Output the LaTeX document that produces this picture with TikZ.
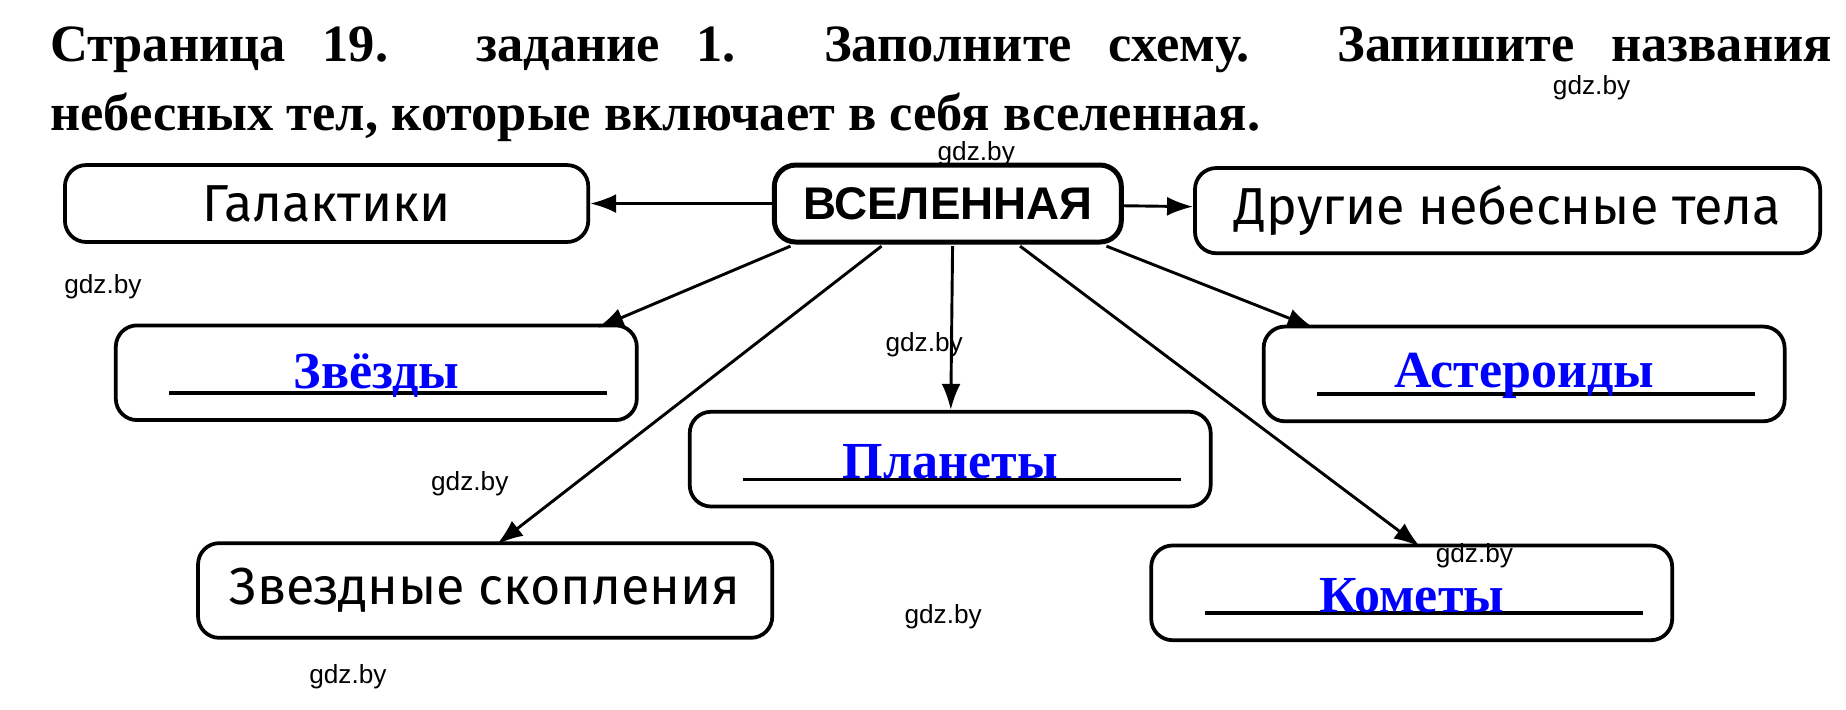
\documentclass[tikz,border=0pt]{standalone}
\usepackage{fontspec}
\setmainfont{Liberation Serif}
\newfontfamily\handfont{Fira Sans}
\newfontfamily\wmfont{Liberation Sans}
\usetikzlibrary{arrows.meta}
\tikzset{
  box/.style={rectangle,rounded corners=0.18cm,draw=black,line width=0.9pt,minimum width=4.4cm,minimum height=0.8cm},
  hand/.style={font=\handfont\fontsize{12.5}{14}\selectfont},
  answer/.style={font=\bfseries\fontsize{12.5}{14}\selectfont,text=blue},
  wm/.style={font=\wmfont\fontsize{6.3}{7}\selectfont},
  link/.style={-{Latex[length=0.22cm,width=0.16cm]},line width=0.7pt}
}
\begin{document}
\begin{tikzpicture}[x=0.01cm,y=-0.01cm]
      \useasboundingbox (0,0) rectangle (1560,600);
      % title
      \node[anchor=base west,font=\bfseries\fontsize{12.6}{14}\selectfont] (t1) at (30,52){\makebox[15.05cm][s]{Страница 19. задание 1. Заполните схему. Запишите названия}};
      \node[anchor=base west,font=\bfseries\fontsize{12.6}{14}\selectfont] (t2) at (30,110){небесных тел, которые включает в себя вселенная.};

      \node[box,minimum width=2.93cm,minimum height=0.65cm,line width=1.2pt] (U) at (801,172){};
      \node[font=\wmfont\bfseries\fontsize{11}{12}\selectfont] at (U){ВСЕЛЕННАЯ};
      \node[box,minimum width=4.42cm,minimum height=0.65cm] (gal) at (276,172){};
      \node[hand] at (gal){Галактики};
      \node[box,minimum width=5.28cm,minimum height=0.72cm] (oth) at (1274,178){};
      \node[hand] at (oth){Другие небесные тела};

      \node[box] (star) at (318,315){};
      \node[box] (ast) at (1288,316){};
      \node[box] (pl) at (803,388){};
      \node[box,minimum width=4.85cm] (cl) at (410,499){};
      \node[hand] at (cl){Звездные скопления};
      \node[box] (com) at (1193,501){};

      % answers on lines
      \foreach \b/\w in {star/Звёзды,ast/Астероиды,pl/Планеты,com/Кометы}{
        \draw[line width=0.8pt] ([xshift=-1.75cm,yshift=-0.17cm]\b.center) -- ([xshift=1.95cm,yshift=-0.17cm]\b.center);
        \node[answer] at ([yshift=-0.02cm]\b.center){\w};
      }

      \draw[link] (U) -- (gal);
      \draw[link] (U) -- (oth);
      \draw[link] (668,208) -- (505,277);
      \draw[link] (745,208) -- (420,460);
      \draw[link] (805,208) -- (pl);
      \draw[link] (862,208) -- (1200,462);
      \draw[link] (935,208) -- (1110,277);

      % watermarks
      \foreach \x/\y in {1345/74,825/130,87/242,781/291,397/409,1246/470,797/521,294/572}{
        \node[wm] at (\x,\y){gdz.by};
      }
    \end{tikzpicture}
\end{document}
